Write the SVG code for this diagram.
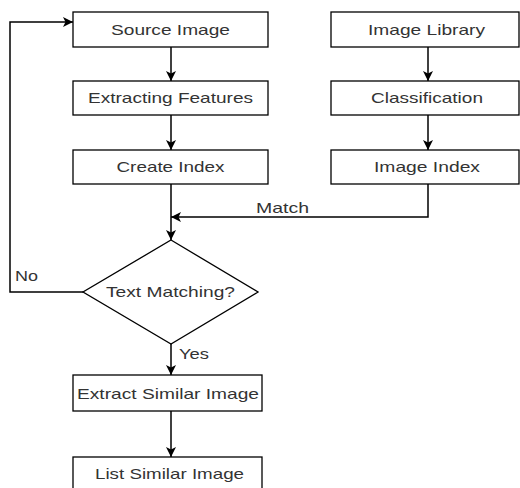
<svg xmlns="http://www.w3.org/2000/svg" width="520" height="488" viewBox="0 0 520 488">
<defs>
<marker id="arr" viewBox="0 0 10 10" refX="10" refY="5" markerWidth="10" markerHeight="10" markerUnits="userSpaceOnUse" orient="auto">
<path d="M0,0 L10,5 L0,10 L2.5,5 Z" fill="#000"/>
</marker>
<style>
.box{fill:#fff;stroke:#000;stroke-width:1.3}
.t{font-family:"Liberation Sans",Arial,sans-serif;font-size:15px;fill:#333;text-anchor:middle}
.l{font-family:"Liberation Sans",Arial,sans-serif;font-size:15px;fill:#333}
.c{fill:none;stroke:#000;stroke-width:1.5}
</style>
</defs>
<rect width="520" height="488" fill="#fff"/>
<g id="connectors">
<path class="c" d="M171,47 V81" marker-end="url(#arr)"/>
<path class="c" d="M171,115 V150" marker-end="url(#arr)"/>
<path class="c" d="M171,184 V240" marker-end="url(#arr)"/>
<path class="c" d="M428,47 V81" marker-end="url(#arr)"/>
<path class="c" d="M428,115 V150" marker-end="url(#arr)"/>
<path class="c" d="M428,184 V217 H171" marker-end="url(#arr)"/>
<path class="c" d="M83,292 H10 V22 H73" marker-end="url(#arr)"/>
<path class="c" d="M171,344 V375" marker-end="url(#arr)"/>
<path class="c" d="M171,411 V457" marker-end="url(#arr)"/>
<text class="l" x="256" y="213" textLength="53" lengthAdjust="spacingAndGlyphs">Match</text>
<text class="l" x="15" y="281" textLength="23" lengthAdjust="spacingAndGlyphs">No</text>
<text class="l" x="179" y="359" textLength="30" lengthAdjust="spacingAndGlyphs">Yes</text>
</g>
<g id="source-image">
<rect class="box" x="73" y="12" width="195" height="35"/>
<text class="t" x="170.5" y="35" textLength="119" lengthAdjust="spacingAndGlyphs">Source Image</text>
</g>
<g id="extracting-features">
<rect class="box" x="73" y="81" width="195" height="34"/>
<text class="t" x="170.5" y="103" textLength="165" lengthAdjust="spacingAndGlyphs">Extracting Features</text>
</g>
<g id="create-index">
<rect class="box" x="73" y="150" width="195" height="34"/>
<text class="t" x="170.5" y="172" textLength="108" lengthAdjust="spacingAndGlyphs">Create Index</text>
</g>
<g id="image-library">
<rect class="box" x="331" y="12" width="188" height="35"/>
<text class="t" x="426.5" y="35" textLength="117" lengthAdjust="spacingAndGlyphs">Image Library</text>
</g>
<g id="classification">
<rect class="box" x="331" y="81" width="188" height="34"/>
<text class="t" x="427" y="103" textLength="112" lengthAdjust="spacingAndGlyphs">Classification</text>
</g>
<g id="image-index">
<rect class="box" x="331" y="150" width="188" height="34"/>
<text class="t" x="427" y="172" textLength="106" lengthAdjust="spacingAndGlyphs">Image Index</text>
</g>
<g id="text-matching">
<path class="box" d="M171,240 L258,292 L171,344 L83,292 Z"/>
<text class="t" x="170.5" y="297" textLength="129" lengthAdjust="spacingAndGlyphs">Text Matching?</text>
</g>
<g id="extract-similar-image">
<rect class="box" x="73" y="375" width="189" height="36"/>
<text class="t" x="168" y="399" textLength="182" lengthAdjust="spacingAndGlyphs">Extract Similar Image</text>
</g>
<g id="list-similar-image">
<rect class="box" x="73" y="457" width="189" height="40"/>
<text class="t" x="169.5" y="479" textLength="149" lengthAdjust="spacingAndGlyphs">List Similar Image</text>
</g>
</svg>
